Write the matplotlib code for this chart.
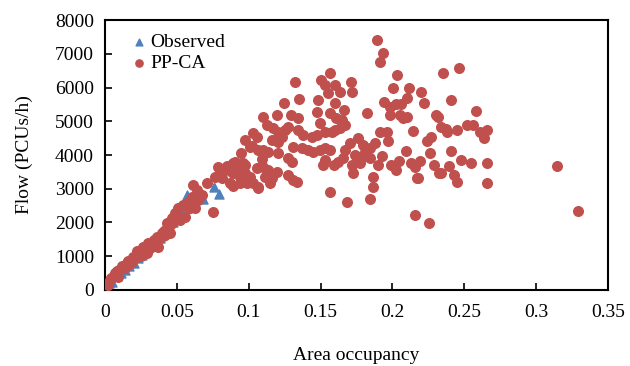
import matplotlib
matplotlib.use("Agg")
import matplotlib.pyplot as plt
from matplotlib.ticker import FuncFormatter

# observed (blue triangles): (area occupancy, flow)
observed = [
    (0.001, 100), (0.003, 200), (0.005, 250), (0.008, 400), (0.011, 500),
    (0.014, 600), (0.017, 700), (0.020, 800), (0.023, 950), (0.026, 1050),
    (0.029, 1200), (0.032, 1300), (0.035, 1450), (0.038, 1550), (0.041, 1700),
    (0.044, 1850), (0.047, 2000), (0.050, 2150), (0.053, 2300), (0.055, 2450),
    (0.057, 2800), (0.060, 2650), (0.066, 2900), (0.068, 2700), (0.076, 3050),
    (0.079, 2850),
]

# PP-CA simulation (red circles)
pp_ca = [
    # free-flow branch
    (0.002, 150), (0.0035, 296), (0.004, 350), (0.006, 420), (0.007, 495),
    (0.008, 550), (0.0093, 394), (0.010, 600), (0.012, 720), (0.0127, 690),
    (0.014, 650), (0.0151, 791), (0.016, 850), (0.0186, 889), (0.018, 800),
    (0.0197, 987), (0.021, 950), (0.022, 1150), (0.0244, 1087), (0.025, 1000),
    (0.0267, 1283), (0.028, 1180), (0.029, 1100), (0.0301, 1384), (0.031, 1250),
    (0.032, 1350), (0.0336, 1431), (0.034, 1480), (0.035, 1420), (0.036, 1579),
    (0.0371, 1283), (0.038, 1550), (0.0395, 1680), (0.040, 1600), (0.041, 1750),
    (0.0418, 1630), (0.0429, 1778), (0.043, 1850), (0.044, 1727), (0.045, 1700),
    (0.0452, 1926), (0.0464, 2124), (0.0475, 2024), (0.0429, 1976), (0.0464, 1976),
    (0.0487, 2272), (0.051, 2420), (0.0545, 2519), (0.0522, 2074), (0.0557, 2172),
    (0.0591, 2420), (0.0626, 2420), (0.058, 2616), (0.0603, 2765), (0.065, 2667),
    (0.0673, 2815), (0.0638, 2963), (0.0614, 3110), (0.0754, 2320),
    (0.0708, 3180), (0.0765, 3357), (0.080, 3457), (0.0812, 3310), (0.0789, 3650),
    (0.0847, 3674), (0.0835, 3556), (0.0882, 3506), (0.0928, 3605), (0.0974, 3704),
    (0.0893, 3770), (0.0946, 4050), (0.0893, 3080), (0.094, 3160), (0.0986, 3160),
    # transition
    (0.1032, 4643), (0.1055, 4543), (0.1009, 4246), (0.0905, 3800), (0.0962, 3754),
    (0.0893, 3457), (0.087, 3160), (0.094, 3357), (0.0986, 3260), (0.1009, 3357),
    (0.1067, 3060), (0.1148, 3160), (0.1055, 3605), (0.110, 3650), (0.1136, 3457),
    (0.1195, 3506),
    # congested scatter
    (0.1322, 6170), (0.1503, 6222), (0.1531, 6075), (0.1554, 5830), (0.1352, 5650),
    (0.1248, 5550), (0.148, 5630), (0.1473, 5283), (0.1195, 5185), (0.1294, 5185),
    (0.134, 5087), (0.110, 5117), (0.1125, 4889), (0.1496, 4940), (0.102, 4267),
    (0.117, 4790), (0.1206, 4690), (0.1253, 4740), (0.1276, 4840), (0.123, 4543),
    (0.116, 4445), (0.1206, 4394), (0.1345, 4740), (0.138, 4593), (0.1438, 4543),
    (0.1473, 4593), (0.1531, 4690), (0.1578, 4690), (0.131, 4246), (0.1369, 4198),
    (0.1415, 4148), (0.145, 4098), (0.1496, 4148), (0.1531, 4198), (0.1566, 4148),
    (0.1067, 4148), (0.110, 4148), (0.1136, 4098), (0.109, 3880), (0.1206, 4050),
    (0.0974, 4445), (0.1276, 3900), (0.130, 3800), (0.1531, 3850), (0.152, 3704),
    (0.1136, 3556), (0.1113, 3357), (0.116, 3310), (0.1276, 3407), (0.131, 3260),
    (0.1334, 3210), (0.0974, 3457), (0.0997, 3310), (0.1032, 3160), (0.1067, 3030),
    (0.189, 7407), (0.1937, 7030), (0.191, 6755), (0.2034, 6370), (0.171, 6170),
    (0.1717, 5866), (0.2006, 5995), (0.2118, 5995), (0.210, 5700), (0.1944, 5580),
    (0.1983, 5430), (0.2023, 5500), (0.206, 5500), (0.198, 5185), (0.2053, 5185),
    (0.2076, 5087), (0.21, 5117), (0.182, 5235), (0.1566, 6440), (0.160, 6075),
    (0.1635, 5876), (0.160, 5530), (0.166, 5333), (0.1566, 5235), (0.161, 5087),
    (0.1647, 5037), (0.167, 4889), (0.160, 4740), (0.1635, 4790), (0.214, 4710),
    (0.1914, 4672), (0.196, 4672), (0.197, 4414), (0.1763, 4493), (0.1705, 4346),
    (0.167, 4148), (0.1798, 4296), (0.1844, 4198), (0.1879, 4346), (0.181, 4098),
    (0.174, 4000), (0.1786, 3950), (0.1844, 3900), (0.1926, 3970), (0.190, 3704),
    (0.1658, 3900), (0.1623, 3800), (0.159, 3704), (0.1717, 3704), (0.1728, 3457),
    (0.1775, 3754), (0.199, 3704), (0.2025, 3556), (0.2048, 3822), (0.2095, 4128),
    (0.213, 3754), (0.2157, 3635), (0.2173, 3328), (0.1863, 3357), (0.1867, 3043),
    (0.1844, 2687), (0.1686, 2598), (0.1566, 2895),
    (0.235, 6420), (0.246, 6590), (0.220, 5866), (0.222, 5530), (0.241, 5620),
    (0.258, 5313), (0.230, 5185), (0.2315, 5117), (0.234, 4820), (0.237, 4780),
    (0.238, 4680), (0.245, 4740), (0.252, 4880), (0.256, 4880), (0.261, 4690),
    (0.264, 4490), (0.266, 4740), (0.227, 4540), (0.224, 4420), (0.2405, 4130),
    (0.226, 4050), (0.248, 3850), (0.255, 3770), (0.266, 3770), (0.219, 3820),
    (0.2175, 3310), (0.229, 3690), (0.2396, 3670), (0.2326, 3475), (0.234, 3475),
    (0.243, 3400), (0.2447, 3200), (0.266, 3160), (0.216, 2222), (0.2255, 1995),
    (0.3146, 3674), (0.329, 2340),
]

obs_x = [p[0] for p in observed]
obs_y = [p[1] for p in observed]
pp_x = [p[0] for p in pp_ca]
pp_y = [p[1] for p in pp_ca]

plt.rcParams['font.family'] = ['Liberation Serif', 'DejaVu Serif']

fig = plt.figure(figsize=(6.3, 3.66), dpi=100)
ax = fig.add_axes([0.1667, 0.2077, 0.7984, 0.7376])

ax.scatter(obs_x, obs_y, marker='^', s=42, color='#4F81BD', label='Observed', zorder=2)
ax.scatter(pp_x, pp_y, marker='o', s=48, color='#C0504D', label='PP-CA', zorder=3)

ax.set_xlim(0, 0.35)
ax.set_ylim(0, 8000)
ax.set_xticks([0, 0.05, 0.1, 0.15, 0.2, 0.25, 0.3, 0.35])
ax.set_yticks(range(0, 8001, 1000))
ax.xaxis.set_major_formatter(FuncFormatter(lambda v, p: ('%g' % round(v, 2))))
ax.tick_params(direction='in', length=5, width=1.2, labelsize=14)
ax.tick_params(axis='x', pad=10)
ax.tick_params(axis='y', pad=8)

for s in ax.spines.values():
    s.set_linewidth(1.5)

ax.set_xlabel('Area occupancy', fontsize=14, labelpad=19)
ax.set_ylabel('Flow (PCUs/h)', fontsize=14, labelpad=16)

ax.legend(loc='upper left', frameon=False, fontsize=14, handletextpad=0.05,
          borderaxespad=0.3, labelspacing=0.15, handlelength=1.0,
          bbox_to_anchor=(0.022, 1.0), markerscale=0.75)

fig.savefig('out.png', dpi=100)
